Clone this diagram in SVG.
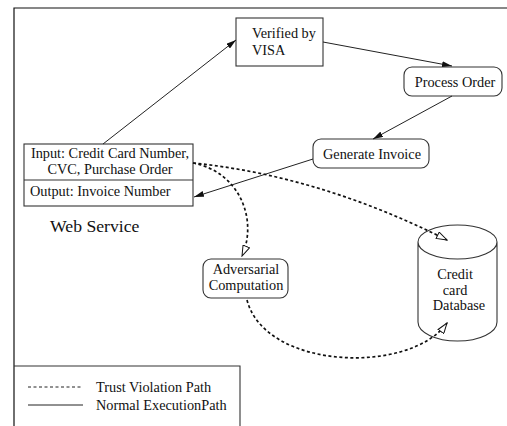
<svg xmlns="http://www.w3.org/2000/svg" width="507" height="426" viewBox="0 0 507 426">
<defs>
<style>
text{font-family:'Liberation Serif','DejaVu Serif','Times New Roman',serif;font-size:14.3px;fill:#111}
.box{fill:#fff;stroke:#333;stroke-width:1.1}
.solid{fill:none;stroke:#222;stroke-width:1}
.dot{fill:none;stroke:#111;stroke-width:1.7;stroke-dasharray:3 2.5}
.mid{text-anchor:middle}
</style>
<marker id="ah" viewBox="0 0 10 6" refX="10" refY="3" markerWidth="10" markerHeight="6" markerUnits="userSpaceOnUse" orient="auto">
<path d="M0,0 L10,3 L0,6 Z" fill="#111"/>
</marker>
<marker id="oh" viewBox="0 0 12 8" refX="11" refY="4" markerWidth="12" markerHeight="8" markerUnits="userSpaceOnUse" orient="auto">
<path d="M0.5,0.5 L11,4 L0.5,7.5 Z" fill="#fff" stroke="#111" stroke-width="1"/>
</marker>
</defs>
<rect width="507" height="426" fill="#fff"/>
<g id="frame">
<path d="M14,426 L14,8 L507,8" fill="none" stroke="#111" stroke-width="1.2"/>
</g>
<g id="verified">
<rect class="box" x="236" y="18" width="87" height="48"/>
<text x="252" y="38" font-family="Liberation Serif, serif">Verified by</text>
<text x="252" y="55" font-family="Liberation Serif, serif">VISA</text>
</g>
<g id="process">
<rect class="box" x="404" y="67" width="98" height="29" rx="8"/>
<text class="mid" x="455" y="87">Process Order</text>
</g>
<g id="generate">
<rect class="box" x="313" y="139" width="116" height="29" rx="8"/>
<text class="mid" x="372" y="159">Generate Invoice</text>
</g>
<g id="webservice">
<rect class="box" x="24" y="144" width="169" height="62"/>
<line x1="24" y1="180" x2="193" y2="180" stroke="#333" stroke-width="1.1"/>
<text class="mid" x="110" y="158">Input: Credit Card Number,</text>
<text class="mid" x="110" y="174">CVC, Purchase Order</text>
<text x="30" y="196">Output: Invoice Number</text>
<text x="50" y="232" style="font-size:17.7px">Web Service</text>
</g>
<g id="adversarial">
<rect class="box" x="203" y="259" width="85" height="39" rx="8"/>
<text class="mid" x="246" y="274">Adversarial</text>
<text class="mid" x="246" y="290">Computation</text>
</g>
<g id="database">
<path class="box" d="M418,242 L418,322 A39.5,19 0 0 0 497,322 L497,242 A39.5,17 0 0 0 418,242 A39.5,17 0 0 0 497,242"/>
<text class="mid" x="455" y="279">Credit</text>
<text class="mid" x="455" y="295">card</text>
<text class="mid" x="459" y="310">Database</text>
</g>
<g id="connectors">
<line class="solid" x1="103" y1="144" x2="236" y2="40" marker-end="url(#ah)"/>
<line class="solid" x1="323" y1="42" x2="452" y2="66" marker-end="url(#ah)"/>
<line class="solid" x1="452" y1="96" x2="373" y2="139" marker-end="url(#ah)"/>
<line class="solid" x1="313" y1="159" x2="194" y2="197" marker-end="url(#ah)"/>
<path class="dot" d="M193,163 Q320,176 447,240" marker-end="url(#oh)"/>
<path class="dot" d="M193,163 C240,172 258,220 242,256" marker-end="url(#oh)"/>
<path class="dot" d="M247,300 C265,370 410,375 447,323" marker-end="url(#oh)"/>
</g>
<g id="legend">
<path d="M14,366 L240,366 L240,426" fill="none" stroke="#333" stroke-width="1.1"/>
<line x1="28" y1="387" x2="83" y2="387" stroke="#222" stroke-width="1" stroke-dasharray="3 2.5"/>
<line x1="28" y1="405" x2="83" y2="405" stroke="#222" stroke-width="1"/>
<text x="96" y="392">Trust Violation Path</text>
<text x="96" y="410">Normal ExecutionPath</text>
</g>
</svg>
